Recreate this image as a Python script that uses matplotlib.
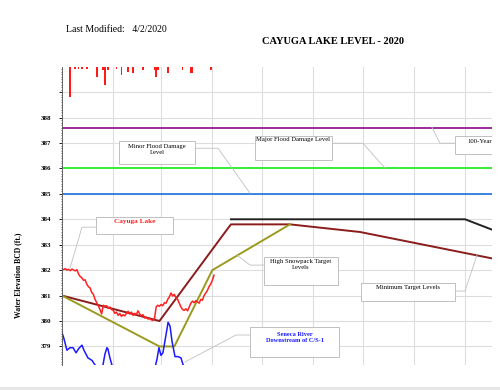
import numpy as np
import matplotlib
matplotlib.use("Agg")
import matplotlib.pyplot as plt
from matplotlib.patches import Rectangle

plt.rcParams['font.family'] = ['Liberation Serif', 'DejaVu Serif']

# day of year 2020 (0 = Jan 1)
month_starts = [0, 31, 60, 91, 121, 152, 182, 213, 244]

# flood levels (ft)
flood_100yr = 387.6
flood_major = 386.0
flood_minor = 385.0

# Cayuga Lake daily level
lake_day = list(range(0, 93))
lake_ft = [382.05, 382.02, 382.06, 382.00, 382.03, 381.98, 382.04, 382.01, 381.97, 382.02,
           381.85, 381.75, 381.70, 381.60, 381.62, 381.45, 381.35, 381.30, 381.12, 381.05,
           380.85, 380.72, 380.60, 380.45, 380.28, 380.62, 380.58, 380.60, 380.50, 380.55,
           380.45, 380.42, 380.30, 380.35, 380.22, 380.30, 380.18, 380.25, 380.20, 380.30,
           380.38, 380.28, 380.35, 380.22, 380.30, 380.25, 380.40, 380.28, 380.20, 380.25,
           380.12, 380.15, 380.08, 380.10, 380.05, 380.02, 380.10, 380.55, 380.62, 380.58,
           380.65, 380.60, 380.72, 380.70, 380.85, 380.95, 381.10, 380.98, 381.05, 380.90,
           380.85, 380.70, 380.55, 380.45, 380.42, 380.48, 380.40, 380.55, 380.70, 380.78,
           380.72, 380.80, 380.75, 380.70, 380.85, 380.82, 381.00, 381.10, 381.20, 381.35,
           381.45, 381.60, 381.80]

# Seneca River downstream of C/S-1
river_day = [0, 1.2, 3, 4.8, 6.7, 8.5, 10.3, 12.1, 13.3, 15.7, 18.2, 20, 22, 24, 24.8, 26,
             27.2, 27.8, 29, 30.3, 35, 45, 55, 57.5, 58.7, 59.9, 61.1, 63.6, 64.2, 65.4,
             66.6, 68.4, 70.2, 72, 73.2, 74.5, 80, 92]
river_ft = [379.55, 379.3, 378.85, 378.95, 378.95, 378.75, 378.93, 379.05, 378.85, 378.55,
            378.45, 378.27, 377.8, 377.9, 378.27, 378.7, 378.95, 378.9, 378.55, 378.25,
            377.6, 377.5, 377.8, 378.5, 378.95, 378.65, 378.75, 379.7, 379.95, 379.8,
            379.2, 378.6, 378.6, 378.55, 378.3, 378.15, 377.8, 377.9]

# target levels
min_day = [0, 59, 100.5, 102.3, 138, 180.4, 262]
min_ft = [381.0, 380.0, 383.65, 383.8, 383.8, 383.5, 382.44]
snow_day = [0, 59, 68, 91, 138]
snow_ft = [381.0, 379.0, 379.0, 382.0, 383.8]
max_day = [102.3, 244, 262]
max_ft = [384.0, 384.0, 383.55]

# daily precipitation (in), hanging from top
precip_day = [5, 8, 10, 12, 15, 21, 25, 26, 28, 33, 36, 40, 43, 49, 56, 57, 58, 64, 73, 78, 79, 90]
precip_in = [1.0, 0.07, 0.07, 0.07, 0.07, 0.35, 0.1, 0.6, 0.1, 0.07, 0.28, 0.18, 0.2, 0.1,
             0.1, 0.35, 0.1, 0.2, 0.12, 0.22, 0.22, 0.1]

W, H = 500, 390
fig = plt.figure(figsize=(5, 3.9), dpi=100)
ax = fig.add_axes([62 / W, 1 - 365 / H, (492 - 62) / W, (365 - 66.7) / H])

ax.set_xlim(0, 260.3)
ax.set_ylim(378.27, 390.0)

ax.set_xticks(month_starts)
ax.set_xticklabels([])
ax.tick_params(axis='x', length=0)
yt = list(range(379, 390))
ax.set_yticks(yt)
ax.set_yticklabels([str(v) if v < 389 else '' for v in yt], fontsize=5, fontweight='bold')
ax.set_yticks(np.arange(378.3, 390, 0.1), minor=True)
ax.tick_params(axis='y', which='major', length=2, width=0.6, pad=6)
ax.tick_params(axis='y', which='minor', length=1, width=0.4)
ax.grid(True, color='#dddddd', linewidth=0.8)
ax.set_axisbelow(True)
for s in ['top', 'right', 'bottom']:
    ax.spines[s].set_visible(False)
ax.spines['left'].set_linewidth(0.6)
ax.spines['left'].set_color('#555555')

ax.axhline(flood_100yr, color='#9b2a9b', lw=1.4)
ax.axhline(flood_major, color='#33ee33', lw=1.4)
ax.axhline(flood_minor, color='#3a84dd', lw=1.4)

ax.plot(max_day, max_ft, color='#222222', lw=1.4)
ax.plot(min_day, min_ft, color='#8b1c1c', lw=1.4)
ax.plot(snow_day, snow_ft, color='#9c9a1e', lw=1.4)
ax.plot(lake_day, lake_ft, color='#ff2020', lw=1.1)
ax.plot(river_day, river_ft, color='#1a1aff', lw=1.1)

ax2 = ax.twinx()
ax2.set_ylim(10, 0)
ax2.bar(precip_day, precip_in, width=1.0, color='#ff1a1a', align='center')
ax2.axis('off')


def px2data(px, py):
    return (px - 62) / 1.652, 388 - (py - 117.3) / 25.46


def callout(x0, y0, x1, y1, lines, tx, ty, leader, ha='center', **kw):
    a, b = px2data(x0, y1)
    c, d = px2data(x1, y0)
    ax.add_patch(Rectangle((a, b), c - a, d - b, facecolor='white',
                           edgecolor='#c0c0c0', lw=0.7, zorder=5, clip_on=True))
    pts = [px2data(p[0], p[1]) for p in leader]
    ax.plot([p[0] for p in pts], [p[1] for p in pts], color='#c0c0c0', lw=0.6, zorder=4)
    ax.text(*px2data(tx, ty), lines, ha=ha, va='top', zorder=6,
            linespacing=1.2, **kw)


callout(119, 141, 195, 164, 'Minor Flood Damage\nLevel', 157, 144,
        [(195, 148), (218, 148), (250, 193)], fontsize=4.8)
callout(255, 136, 332, 160, 'Major Flood Damage Level', 293, 137,
        [(332, 143), (363, 143), (385, 168)], fontsize=4.8)
callout(455, 136, 530, 154, '100-Year', 467, 139,
        [(455, 143), (440, 143), (432, 127)], ha='left', fontsize=4.8)
callout(96, 217, 173, 234, 'Cayuga Lake', 134.5, 219,
        [(96, 227), (82, 227), (70, 268)], fontsize=5.2, fontweight='bold', color='#ff2020')
callout(264, 257, 338, 285, 'High Snowpack Target\nLevels', 301, 259,
        [(264, 265), (250, 265), (237, 255)], fontsize=4.8)
callout(361, 283, 455, 301, 'Minimum Target Levels', 408, 285,
        [(455, 291), (465, 291), (477, 255)], fontsize=4.8)
callout(250, 327, 339, 357, 'Seneca River\nDownstream of C/S-1', 295, 332,
        [(250, 335), (236, 335), (185, 362)], fontsize=4.6, fontweight='bold', color='#1a1aff')

fig.text(66 / W, 1 - 30 / H, 'Last Modified:   4/2/2020', fontsize=7, ha='left', va='center')
fig.text(333 / W, 1 - 41 / H, 'CAYUGA LAKE LEVEL - 2020', fontsize=7.5, fontweight='bold',
         ha='center', va='center')
fig.text(18 / W, 1 - 275 / H, 'Water Elevation BCD (ft.)', fontsize=5.5, fontweight='bold',
         rotation=90, ha='center', va='center')

fig.patches.append(Rectangle((0, 0), 1, 3.5 / H, transform=fig.transFigure,
                             facecolor='#e6e6e6', edgecolor='none'))

fig.savefig('out.png', dpi=100)
